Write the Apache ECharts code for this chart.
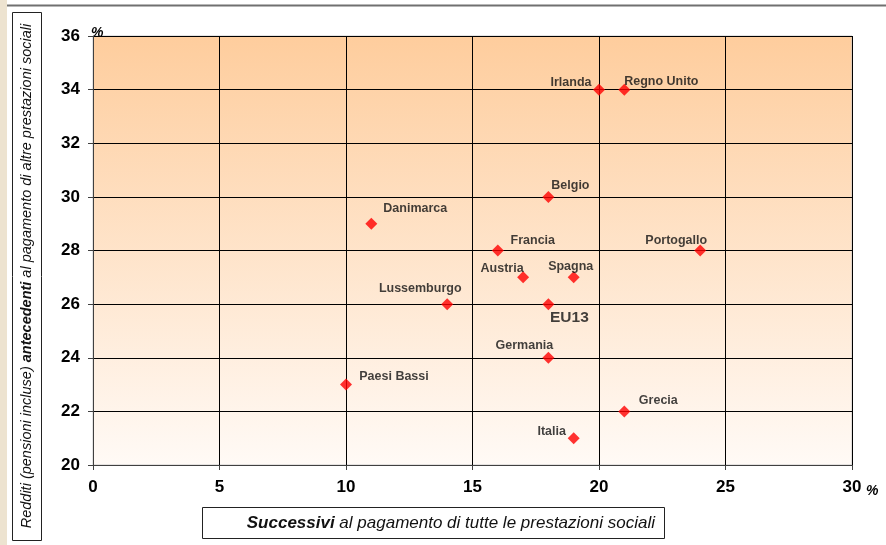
<!DOCTYPE html>
<html>
<head>
<meta charset="utf-8">
<script src="https://cdn.jsdelivr.net/npm/echarts@6/dist/echarts.min.js"></script>
<style>
  html, body { margin: 0; padding: 0; background: #ffffff; }
  #chart { width: 886px; height: 545px; }
</style>
</head>
<body>
<div id="chart"></div>
<script>
// Paesi e valori (%)
const countries = ['Irlanda', 'Regno Unito', 'Belgio', 'Danimarca', 'Francia', 'Portogallo', 'Austria',
                   'Spagna', 'Lussemburgo', 'EU13', 'Germania', 'Paesi Bassi', 'Grecia', 'Italia'];
const afterTransfers = [20, 21, 18, 11, 16, 24, 17, 19, 14, 18, 18, 10, 21, 19];
const beforeTransfers = [34, 34, 30, 29, 28, 28, 27, 27, 26, 26, 24, 23, 22, 21];

const xTicks = [0, 5, 10, 15, 20, 25, 30];
const yTicks = [20, 22, 24, 26, 28, 30, 32, 34, 36];

// Label placement around each marker (pixels from the marker centre)
const labelOffset = {
  'Irlanda': [-28, -7], 'Regno Unito': [37, -8], 'Belgio': [22, -11], 'Danimarca': [44, -15],
  'Francia': [35, -10], 'Portogallo': [-24, -10], 'Austria': [-21, -9], 'Spagna': [-3, -11],
  'Lussemburgo': [-27, -16], 'EU13': [21, 14], 'Germania': [-24, -12], 'Paesi Bassi': [48, -8],
  'Grecia': [34, -11], 'Italia': [-22, -7]
};

const tickFont = '"Liberation Sans Narrow", "Liberation Sans", Arial, sans-serif';
const textFont = '"Liberation Sans", Arial, Helvetica, sans-serif';

const points = countries.map((name, i) => ({
  name: name,
  value: [afterTransfers[i], beforeTransfers[i]],
  label: { fontSize: name === 'EU13' ? 15.5 : 12.5 }
}));

const chart = echarts.init(document.getElementById('chart'), null, { renderer: 'canvas' });

chart.setOption({
  animation: false,
  backgroundColor: '#ffffff',
  grid: {
    left: 93, right: 34, top: 36, bottom: 80,
    show: true,
    borderColor: '#c8c8c8',
    borderWidth: 1,
    backgroundColor: {
      type: 'linear', x: 0, y: 0, x2: 0, y2: 1,
      colorStops: [
        { offset: 0, color: '#fecd9d' },
        { offset: 1, color: '#fffaf6' }
      ]
    }
  },
  xAxis: {
    type: 'value',
    min: xTicks[0], max: xTicks[xTicks.length - 1], interval: 5,
    axisLine: { show: true, onZero: false, lineStyle: { color: '#404040', width: 1 } },
    axisTick: { show: true, length: 5, lineStyle: { color: '#404040' } },
    splitLine: { show: true, lineStyle: { color: '#000000', width: 1 } },
    axisLabel: {
      color: '#000000', fontFamily: tickFont, fontWeight: 'bold', fontSize: 17, margin: 14,
      showMaxLabel: true
    }
  },
  yAxis: {
    type: 'value',
    min: yTicks[0], max: yTicks[yTicks.length - 1], interval: 2,
    axisLine: { show: true, onZero: false, lineStyle: { color: '#404040', width: 1 } },
    axisTick: { show: true, length: 5, lineStyle: { color: '#404040' } },
    splitLine: { show: true, lineStyle: { color: '#000000', width: 1 } },
    axisLabel: {
      color: '#000000', fontFamily: tickFont, fontWeight: 'bold', fontSize: 17, margin: 13
    }
  },
  series: [{
    type: 'scatter',
    symbol: 'diamond',
    symbolSize: 12,
    itemStyle: { color: '#ff0000' },
    label: {
      show: true,
      position: 'inside',
      align: 'center',
      verticalAlign: 'middle',
      formatter: '{b}',
      color: '#111111',
      textBorderWidth: 0,
      textBorderColor: 'transparent',
      fontFamily: textFont,
      fontWeight: 'bold'
    },
    labelLayout: function (params) {
      const off = labelOffset[countries[params.dataIndex]] || [0, 0];
      return { dx: off[0], dy: off[1], hideOverlap: false };
    },
    data: points,
    z: 5
  }],
  graphic: [
    // left margin strip and top rule
    { type: 'rect', shape: { x: 0, y: 0, width: 7, height: 545 }, style: { fill: '#ede3d0' }, silent: true },
    { type: 'line', shape: { x1: 7, y1: 5.5, x2: 886, y2: 5.5 }, style: { stroke: '#707070', lineWidth: 2 }, silent: true },
    // vertical axis title box
    { type: 'rect', shape: { x: 12.5, y: 12.5, width: 29, height: 528 }, style: { fill: '#ffffff', stroke: '#222222', lineWidth: 1 }, silent: true },
    {
      type: 'text', x: 27, y: 276, rotation: Math.PI / 2, silent: true,
      style: {
        text: '{n|Redditi (pensioni incluse) }{b|antecedenti}{n| al pagamento di altre prestazioni sociali}',
        align: 'center', verticalAlign: 'middle',
        rich: {
          n: { fontFamily: textFont, fontStyle: 'italic', fontSize: 14.5, fill: '#111111' },
          b: { fontFamily: textFont, fontStyle: 'italic', fontWeight: 'bold', fontSize: 14.5, fill: '#111111' }
        }
      }
    },
    // horizontal axis title box
    { type: 'rect', shape: { x: 202.5, y: 507.5, width: 462, height: 31 }, style: { fill: '#ffffff', stroke: '#222222', lineWidth: 1 }, silent: true },
    {
      type: 'text', x: 655, y: 523, silent: true,
      style: {
        text: '{b|Successivi}{n| al pagamento di tutte le prestazioni sociali}',
        align: 'right', verticalAlign: 'middle',
        rich: {
          n: { fontFamily: textFont, fontStyle: 'italic', fontSize: 17, fill: '#111111' },
          b: { fontFamily: textFont, fontStyle: 'italic', fontWeight: 'bold', fontSize: 17, fill: '#111111' }
        }
      }
    },
    // unit markers
    {
      type: 'text', x: 91, y: 33, silent: true,
      style: { text: '%', fontFamily: textFont, fontStyle: 'italic', fontWeight: 'bold', fontSize: 14, fill: '#000000', verticalAlign: 'middle' }
    },
    {
      type: 'text', x: 866, y: 491, silent: true,
      style: { text: '%', fontFamily: textFont, fontStyle: 'italic', fontWeight: 'bold', fontSize: 14, fill: '#000000', verticalAlign: 'middle' }
    }
  ]
});
</script>
</body>
</html>
